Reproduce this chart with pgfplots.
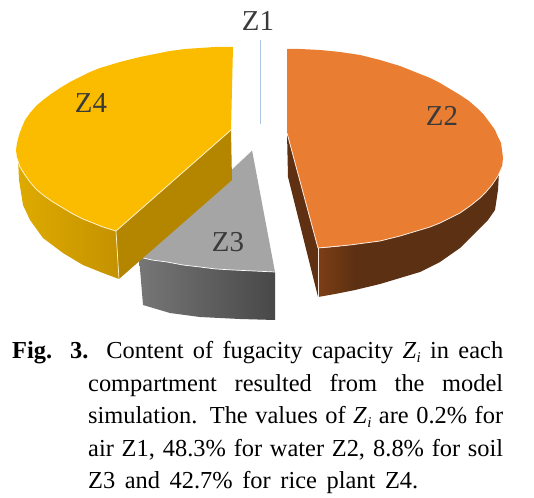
\documentclass[border=0pt]{standalone}
\usepackage{pgfplots}
\pgfplotsset{compat=1.18}
\usepackage{fontspec}
\setmainfont{Liberation Serif}
\definecolor{zfour}{RGB}{251,188,0}
\definecolor{ztwo}{RGB}{233,125,49}
\definecolor{zthree}{RGB}{165,165,165}
\definecolor{lab}{RGB}{58,58,58}
\newcommand{\Zi}{\textit{Z}\kern0.3pt\raisebox{-0.2em}{\fontsize{15}{15}\selectfont\textit{i}}}
\begin{document}
\begin{tikzpicture}
\path[use as bounding box] (0,0) rectangle (534bp,498bp);
\begin{axis}[
  at={(0,0)}, anchor=south west,
  scale only axis, width=534bp, height=498bp,
  xmin=0, xmax=534, ymin=0, ymax=498, y dir=reverse,
  hide axis, clip=false,
]
% Z1
\addplot[draw={rgb,255:red,170;green,200;blue,225}, line width=0.8pt] coordinates {(260.5,40) (260.5,124)};
% Z3
\addplot[draw=none, left color={rgb,255:red,118;green,118;blue,118}, right color={rgb,255:red,72;green,72;blue,72}] coordinates {(139,257) (143,305) (170,313) (200,317) (240,319) (275,320) (275,272)} --cycle;
\addplot[draw=none, fill=zthree] coordinates {(252,150) (275,272) (254,271) (233,270) (216,269) (200,267) (183,265) (167,262) (152,260) (139,257)} --cycle;
\addplot[draw=white, line width=0.7pt] coordinates {(275,272) (254,271) (233,270) (216,269) (200,267) (183,265) (167,262) (152,260) (139,257) (252,150)};
% Z4
\addplot[draw=none, fill={rgb,255:red,180;green,134;blue,0}] coordinates {(116,231) (119,279) (232,180) (231,130)} --cycle;
\addplot[draw=none, left color={rgb,255:red,222;green,170;blue,0}, right color={rgb,255:red,196;green,146;blue,0}] coordinates {(18,158) (20,167) (30,182) (43,195) (63,208) (83,219) (103,227) (116,231) (119,279) (103,273) (83,265) (63,253) (43,238) (30,220) (23,205) (19,180)} --cycle;
\addplot[draw=none, fill=zfour] coordinates {(233,47) (215,47) (200,48) (185,49) (170,51) (155,54) (140,57) (120,62) (100,68) (90,72) (80,77) (70,82) (60,88) (51,94) (43,100) (36,106) (30,113) (25,120) (22,127) (19,135) (17,143) (16,150) (17,158) (20,167) (25,175) (30,182) (36,189) (43,195) (53,202) (63,208) (73,214) (83,219) (93,223) (103,227) (116,231) (231,130)} --cycle;
\addplot[draw=white!80!zfour, line width=0.8pt] coordinates {(17,158) (20,167) (25,175) (30,182) (36,189) (43,195) (53,202) (63,208) (73,214) (83,219) (93,223) (103,227) (116,231) (231,130)};
\addplot[draw=white!80!zfour, line width=0.7pt] coordinates {(116,231) (119,279)};
% Z2
\addplot[draw=none, fill={rgb,255:red,95;green,48;blue,18}] coordinates {(287,133) (318,248) (318,297) (288,177)} --cycle;
\addplot[draw=none, fill={rgb,255:red,92;green,48;blue,18}] coordinates {(355,244) (380,241) (400,236) (420,230) (440,223) (460,213) (480,198) (492,185) (499,172) (498,190) (495,210) (488,220) (480,228) (470,238) (460,248) (450,255) (440,262) (420,272) (400,278) (380,284) (355,290)} --cycle;
\addplot[draw=none, left color={rgb,255:red,125;green,62;blue,22}, right color={rgb,255:red,92;green,48;blue,18}] coordinates {(318,248) (335,247) (355,244) (355,290) (335,294) (318,297)} --cycle;
\addplot[draw=none, fill=ztwo] coordinates {(287,49) (300,49) (320,50) (340,52) (360,55) (380,60) (400,66) (420,74) (430,78) (440,83) (450,89) (460,95) (469,101) (477,108) (484,115) (490,123) (495,130) (498,137) (501,143) (502,150) (503,158) (502,167) (498,176) (492,185) (486,192) (480,198) (470,206) (460,213) (450,218) (440,223) (430,227) (420,230) (400,236) (380,241) (350,245) (318,248) (287,133)} --cycle;
\addplot[draw=white!85!ztwo, line width=0.8pt] coordinates {(502,167) (498,176) (492,185) (486,192) (480,198) (470,206) (460,213) (450,218) (440,223) (430,227) (420,230) (400,236) (380,241) (350,245) (318,248) (287,133)};
\addplot[draw=white!85!ztwo, line width=0.7pt] coordinates {(318,248) (318,297)};
% labels
\node[anchor=center, text=lab, font=\fontsize{29}{29}\selectfont, inner sep=0] at (axis cs:258,21) {Z1};
\node[anchor=center, text=lab, font=\fontsize{29}{29}\selectfont, inner sep=0] at (axis cs:442,116) {Z2};
\node[anchor=center, text=lab, font=\fontsize{29}{29}\selectfont, inner sep=0] at (axis cs:228,242) {Z3};
\node[anchor=center, text=lab, font=\fontsize{29}{29}\selectfont, inner sep=0] at (axis cs:91,103) {Z4};
% caption
\begin{scope}[every node/.style={anchor=base west, inner sep=0, font=\fontsize{24.5}{28}\selectfont}]
\node at (axis cs:12,358) {\makebox[491bp][s]{\textbf{Fig. 3.} Content of fugacity capacity \Zi{} in each}};
\node at (axis cs:88,391) {\makebox[415bp][s]{compartment resulted from the model}};
\node at (axis cs:88,423) {\makebox[415bp][s]{simulation. The values of \Zi{} are 0.2\% for}};
\node at (axis cs:88,456) {\makebox[415bp][s]{air Z1, 48.3\% for water Z2, 8.8\% for soil}};
\node at (axis cs:88,488) {\makebox[330bp][s]{Z3 and 42.7\% for rice plant Z4.}};
\end{scope}
\end{axis}
\end{tikzpicture}
\end{document}
